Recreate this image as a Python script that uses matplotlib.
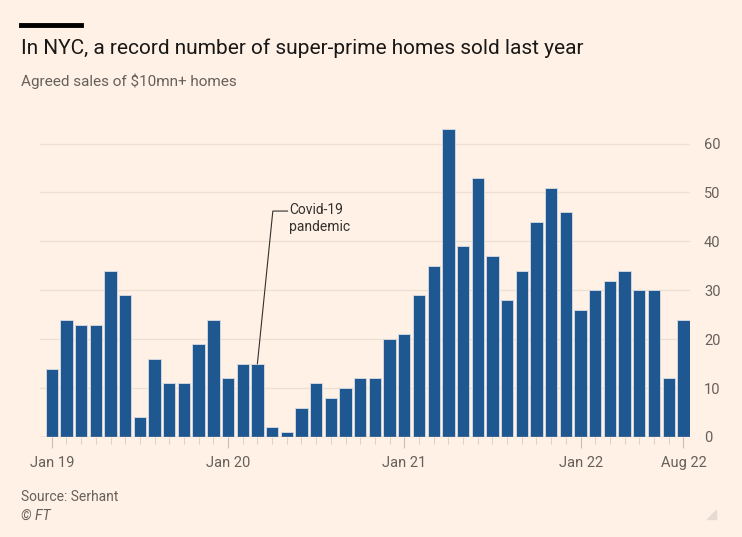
import matplotlib
matplotlib.use('Agg')
import matplotlib.pyplot as plt
import numpy as np

# monthly agreed sales of $10mn+ homes, Jan 2019 - Aug 2022
sales_2019 = [14, 24, 23, 23, 34, 29, 4, 16, 11, 11, 19, 24]
sales_2020 = [12, 15, 15, 2, 1, 6, 11, 8, 10, 12, 12, 20]
sales_2021 = [21, 29, 35, 63, 39, 53, 37, 28, 34, 44, 51, 46]
sales_2022 = [26, 30, 32, 34, 30, 30, 12, 24]
sales = sales_2019 + sales_2020 + sales_2021 + sales_2022

tick_months = [0, 12, 24, 36, 43]
tick_labels = ['Jan 19', 'Jan 20', 'Jan 21', 'Jan 22', 'Aug 22']
y_ticks = [0, 10, 20, 30, 40, 50, 60]

covid_month = 14  # Mar 2020

bg = '#fff1e5'
bar_col = '#1f5890'
txt_grey = '#66605c'

plt.rcParams['font.family'] = ['Roboto', 'DejaVu Sans']

fig = plt.figure(figsize=(7.42, 5.37), dpi=100, facecolor=bg)
ax = fig.add_axes([40 / 742, 1 - 437 / 537, 650 / 742, (437 - 124) / 537])
ax.set_facecolor(bg)

x = np.arange(len(sales))
ax.bar(x, sales, width=0.84, color=bar_col, edgecolor='#d9dde3', linewidth=0.6, zorder=3)

ax.set_xlim(-0.8, 43.45)
ax.set_ylim(0, 64)

for s in ax.spines.values():
    s.set_visible(False)
ax.axhline(0, color='#b8afa8', lw=1, zorder=4)
for yv in y_ticks[1:]:
    ax.axhline(yv, color='#ecdfd4', lw=0.9, zorder=1)

ax.yaxis.tick_right()
ax.set_yticks(y_ticks)
ax.set_yticklabels([str(v) for v in y_ticks])
ax.tick_params(axis='y', length=0, pad=10, labelsize=10.5, labelcolor=txt_grey)

ax.set_xticks(tick_months)
ax.set_xticklabels(tick_labels)
ax.set_xticks(x, minor=True)
ax.tick_params(axis='x', which='major', length=8, width=0.8, color='#c8beb6',
               labelsize=10.5, labelcolor=txt_grey, pad=6)
ax.tick_params(axis='x', which='minor', length=5, width=0.8, color='#ddd2c9')

# annotation pointing at Mar 2020: slanted leader then short horizontal
y_top = sales[covid_month]
ax.plot([covid_month, covid_month + 1.05, covid_month + 2.05],
        [y_top, 46.2, 46.2], color='#33302e', lw=0.8, zorder=5,
        solid_joinstyle='miter')
ax.text(covid_month + 2.15, 47.9, 'Covid-19\npandemic', fontsize=10,
        color='#33302e', va='top', ha='left', linespacing=1.3,
        transform=ax.transData)

fig.add_artist(plt.Line2D([21 / 742, 81 / 742], [1 - 25 / 537, 1 - 25 / 537],
                          color='black', lw=3.5))
fig.text(21 / 742, 1 - 48 / 537, 'In NYC, a record number of super-prime homes sold last year',
         fontsize=15, color='#1a1817', va='center', ha='left')
fig.text(21 / 742, 1 - 81 / 537, 'Agreed sales of $10mn+ homes',
         fontsize=11, color=txt_grey, va='center', ha='left')
fig.text(21 / 742, 1 - 497 / 537, 'Source: Serhant',
         fontsize=10, color=txt_grey, va='center', ha='left')
fig.text(21 / 742, 1 - 516 / 537, '© FT',
         fontsize=10, color=txt_grey, va='center', ha='left', style='italic')

# small corner mark
fig.add_artist(plt.Polygon([[716 / 742, 1 - 510 / 537], [716 / 742, 1 - 519 / 537],
                            [707 / 742, 1 - 519 / 537]], closed=True,
                           color='#e6dbd2', transform=fig.transFigure))

fig.savefig('out.png', dpi=100, facecolor=bg)
